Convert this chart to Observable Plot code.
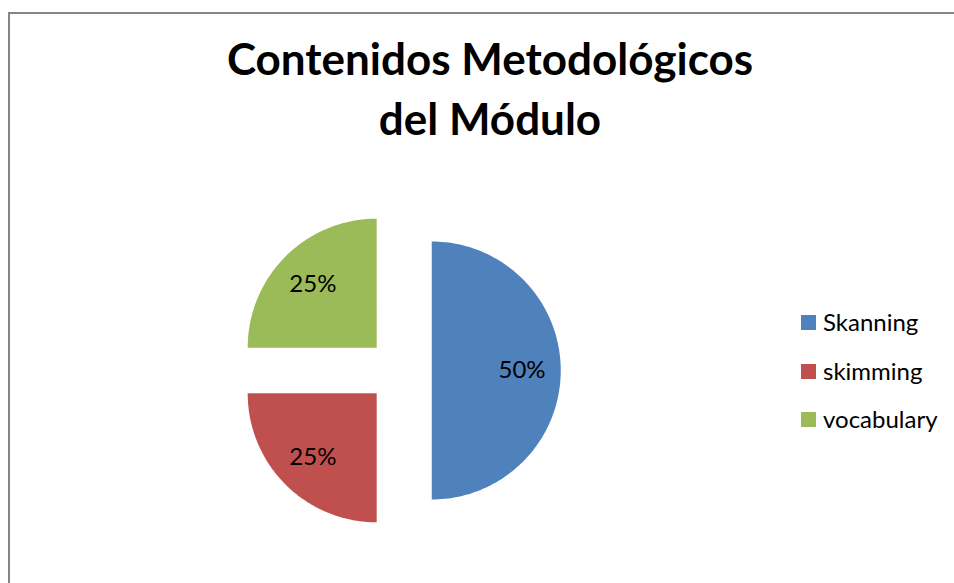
<!DOCTYPE html>
<html>
<head>
<meta charset="utf-8">
<script src="https://cdn.jsdelivr.net/npm/d3@7"></script>
<script src="https://cdn.jsdelivr.net/npm/@observablehq/plot@0.6"></script>
<style>
  html, body { margin: 0; padding: 0; background: #fff; overflow: hidden; }
  #chart { position: relative; width: 954px; height: 583px; overflow: hidden; font-family: Lato, "Open Sans", sans-serif; color: #000; }
  #frame { position: absolute; left: 8px; top: 12px; width: 1000px; height: 700px; border-left: 2px solid #868686; border-top: 2px solid #868686; box-sizing: border-box; }
  #title { position: absolute; left: 0; width: 980px; top: 28px; text-align: center; font-weight: bold; font-size: 44px; line-height: 60px; white-space: nowrap; }
  #pie { position: absolute; left: 0; top: 0; }
  .lg-sw { position: absolute; width: 15px; height: 15px; }
  .lg-tx { position: absolute; font-size: 24px; line-height: 24px; white-space: nowrap; }
</style>
</head>
<body>
<div id="chart">
  <div id="frame"></div>
  <div id="title">Contenidos Metodológicos<br>del Módulo</div>
  <div id="pie"></div>
  <div id="legend"></div>
</div>
<script>
// ---- data ----
const categories = ["Skanning", "skimming", "vocabulary"];
const values = [50, 25, 25];
const colors = ["#4F81BD", "#C0504D", "#9BBB59"];

// ---- layout constants (pixels) ----
const W = 954, H = 583;
const CX = 399, CY = 370, R = 129;   // pie centre and radius
const EXPLODE = 0.25;                // explosion distance, in radii
const LABEL_R = 0.7;                 // label distance from slice centre, in radii

const rows = categories.map((c, i) => ({category: c, value: values[i]}));
const total = d3.sum(values);
const arcs = d3.pie().sort(null).value(d => d.value)(rows);

const pts = [];
const labels = [];
for (const a of arcs) {
  const m = (a.startAngle + a.endAngle) / 2;
  const ox = EXPLODE * Math.sin(m), oy = EXPLODE * Math.cos(m);
  pts.push({category: a.data.category, x: ox, y: oy});
  const N = 120;
  for (let k = 0; k <= N; k++) {
    const t = a.startAngle + (a.endAngle - a.startAngle) * k / N;
    pts.push({category: a.data.category, x: ox + Math.sin(t), y: oy + Math.cos(t)});
  }
  labels.push({
    x: ox + LABEL_R * Math.sin(m),
    y: oy + LABEL_R * Math.cos(m),
    text: Math.round(a.data.value / total * 100) + "%"
  });
}

const plot = Plot.plot({
  width: W, height: H,
  margin: 0,
  x: {domain: [(0 - CX) / R, (W - CX) / R], axis: null},
  y: {domain: [(CY - H) / R, CY / R], axis: null},
  color: {domain: categories, range: colors},
  style: {background: "transparent", fontFamily: "Lato, 'Open Sans', sans-serif"},
  marks: [
    Plot.line(pts, {x: "x", y: "y", z: "category", fill: "category", stroke: "none", curve: "linear-closed"}),
    Plot.text(labels, {x: "x", y: "y", text: "text", fontSize: 24, fill: "#000"})
  ]
});
document.getElementById("pie").appendChild(plot);

// ---- legend ----
const legend = document.getElementById("legend");
const LG_X = 801, LG_Y = 315, LG_STEP = 48.5;
categories.forEach((c, i) => {
  const sw = document.createElement("div");
  sw.className = "lg-sw";
  sw.style.left = LG_X + "px";
  sw.style.top = (LG_Y + i * LG_STEP) + "px";
  sw.style.background = colors[i];
  legend.appendChild(sw);
  const tx = document.createElement("div");
  tx.className = "lg-tx";
  tx.style.left = (LG_X + 22) + "px";
  tx.style.top = (LG_Y + i * LG_STEP - 5) + "px";
  tx.textContent = c;
  legend.appendChild(tx);
});
</script>
</body>
</html>
